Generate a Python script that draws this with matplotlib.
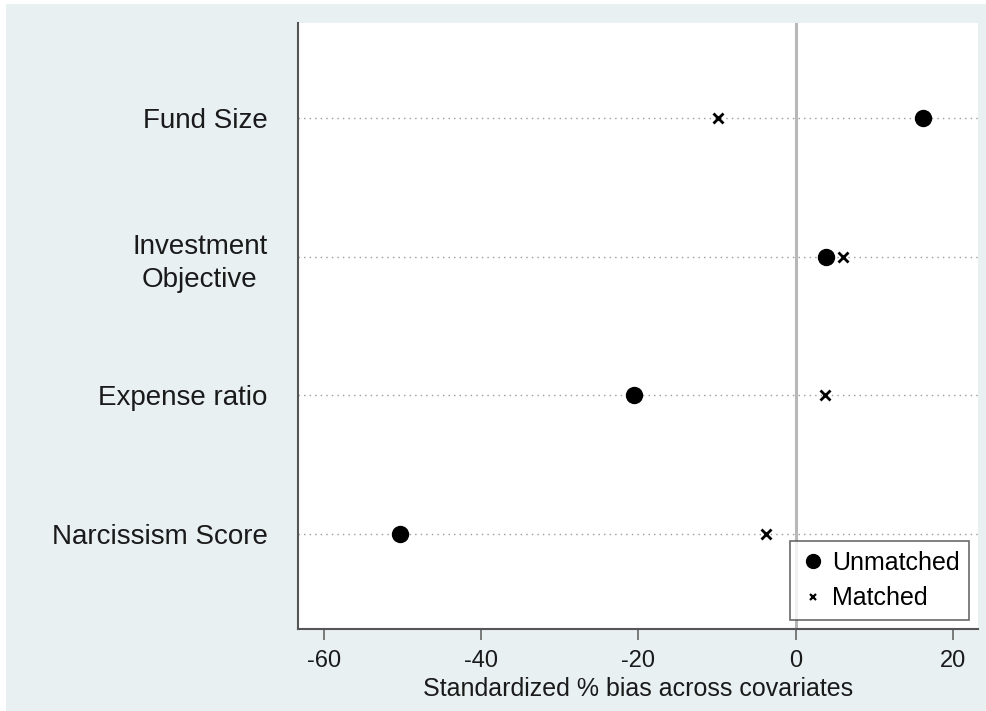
import matplotlib.pyplot as plt
from matplotlib.patches import Rectangle

plt.rcParams['font.family'] = ['Liberation Sans', 'DejaVu Sans']

covariates = ['Narcissism Score', 'Expense ratio', 'Investment\nObjective', 'Fund Size']
unmatched = [-50.3, -20.5, 3.9, 16.2]
matched = [-3.8, 3.7, 6.0, -9.9]
xticks = [-60, -40, -20, 0, 20]

fig = plt.figure(figsize=(9.86, 7.11), dpi=100, facecolor='white')
# light graph region behind the white plot area
bg = Rectangle((6 / 986, 0), 1 - 6 / 986, 1 - 4 / 711,
               transform=fig.transFigure, facecolor='#e8f0f2',
               edgecolor='none', zorder=-10)
fig.add_artist(bg)

ax = fig.add_axes([298 / 986, 1 - 629 / 711, 680 / 986, 606 / 711])
ax.set_facecolor('white')

ypos = list(range(1, len(covariates) + 1))
for y in ypos:
    ax.axhline(y, color='#9a9a9a', linestyle=(0, (1, 3)), linewidth=1.0, zorder=1)
ax.axvline(0, color='#b8b8b8', linewidth=2.2, zorder=1)

ax.plot(unmatched, ypos, linestyle='none', marker='o', markersize=11.5,
        color='black', label='Unmatched', zorder=3)
ax.plot(matched, ypos, linestyle='none', marker='x', markersize=6.5,
        markeredgewidth=2.0, color='black', label='Matched', zorder=3)

ax.set_xlim(-63.3, 23.2)
ax.set_ylim(0.32, 4.68)
ax.set_xticks(xticks)
ax.set_xticklabels([str(t) for t in xticks], fontsize=17, color='#1a1a1a')
ax.set_yticks(ypos)
ax.set_yticklabels(covariates, fontsize=20, color='#1a1a1a',
                   multialignment='center', linespacing=1.35)
ax.tick_params(axis='y', length=0, pad=22)
ax.tick_params(axis='x', length=8, width=1.2, color='#666666', pad=7)
ax.set_xlabel('Standardized % bias across covariates', fontsize=18,
              color='#1a1a1a', labelpad=4)

for side in ['top', 'right']:
    ax.spines[side].set_visible(False)
for side in ['left', 'bottom']:
    ax.spines[side].set_color('#555555')
    ax.spines[side].set_linewidth(1.5)

leg = ax.legend(loc='lower right', fontsize=18, frameon=True, fancybox=False,
                borderaxespad=0.35, handletextpad=0.25, labelspacing=0.45,
                handlelength=1.0, borderpad=0.4)
leg.get_frame().set_edgecolor('#444444')
leg.get_frame().set_linewidth(1.2)
leg.legend_handles[1].set_markersize(5)
leg.legend_handles[1].set_markeredgewidth(1.6)
leg.legend_handles[0].set_markersize(10)

fig.savefig('out.png', dpi=100, facecolor=fig.get_facecolor())
